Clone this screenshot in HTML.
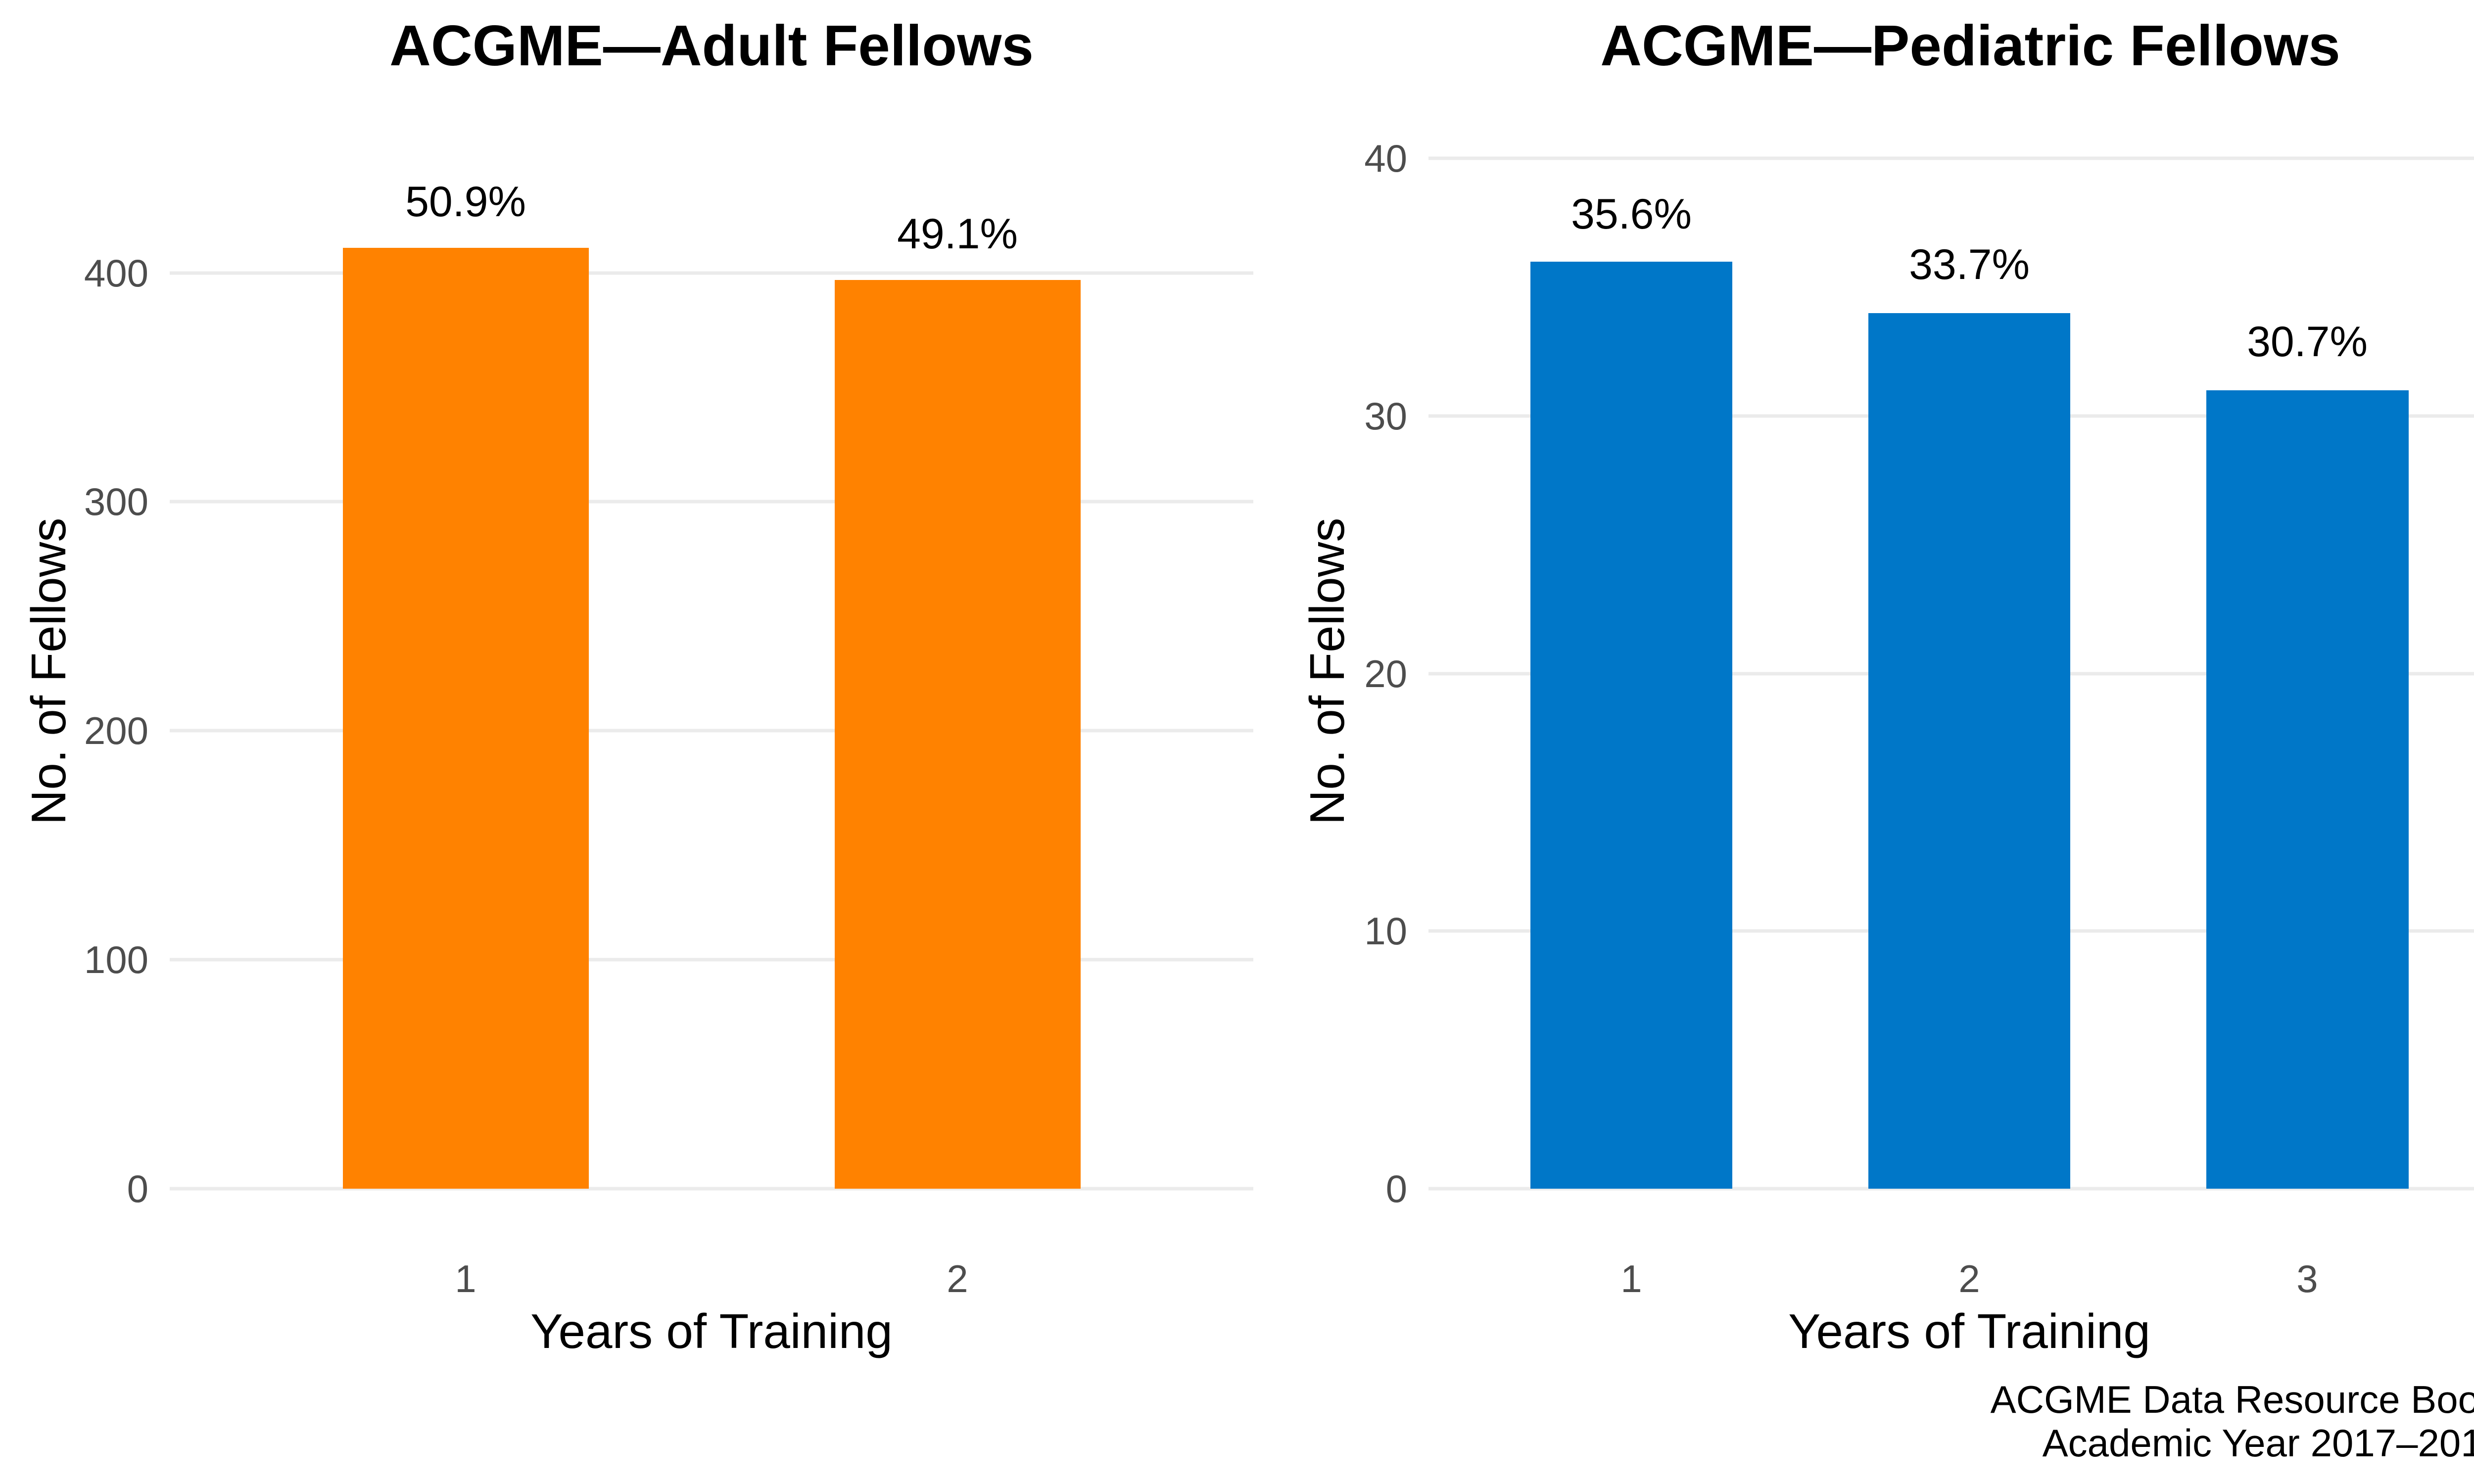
<!DOCTYPE html>
<html><head><meta charset="utf-8"><style>
html,body{margin:0;padding:0;background:#fff;}
svg{display:block;font-family:"Liberation Sans","DejaVu Sans",sans-serif;}
</style></head><body>
<svg width="5100" height="3000" viewBox="0 0 5100 3000" xmlns="http://www.w3.org/2000/svg">
<rect width="5100" height="3000" fill="#fff"/>
<g stroke="#ebebeb" stroke-width="7">
<line x1="343" x2="2533" y1="2403" y2="2403"/>
<line x1="343" x2="2533" y1="1940" y2="1940"/>
<line x1="343" x2="2533" y1="1477" y2="1477"/>
<line x1="343" x2="2533" y1="1014" y2="1014"/>
<line x1="343" x2="2533" y1="552" y2="552"/>
<line x1="2887" x2="5060" y1="2403" y2="2403"/>
<line x1="2887" x2="5060" y1="1882" y2="1882"/>
<line x1="2887" x2="5060" y1="1362" y2="1362"/>
<line x1="2887" x2="5060" y1="841" y2="841"/>
<line x1="2887" x2="5060" y1="320" y2="320"/>
</g>
<g fill="#ff8200">
<rect x="693" y="501" width="497" height="1902"/>
<rect x="1687" y="566" width="497" height="1837"/>
</g>
<g fill="#0077c8">
<rect x="3093" y="529" width="408" height="1874"/>
<rect x="3776" y="633" width="408" height="1770"/>
<rect x="4459" y="789" width="409" height="1614"/>
</g>
<g font-size="78" fill="#4d4d4d" text-anchor="end">
<text x="300" y="2430">0</text>
<text x="300" y="1967">100</text>
<text x="300" y="1504">200</text>
<text x="300" y="1041">300</text>
<text x="300" y="579">400</text>
<text x="2844" y="2430">0</text>
<text x="2844" y="1909">10</text>
<text x="2844" y="1389">20</text>
<text x="2844" y="868">30</text>
<text x="2844" y="347">40</text>
</g>
<g font-size="78" fill="#4d4d4d" text-anchor="middle">
<text x="941" y="2612">1</text>
<text x="1935" y="2612">2</text>
<text x="3297" y="2612">1</text>
<text x="3980" y="2612">2</text>
<text x="4663" y="2612">3</text>
</g>
<g font-size="86" fill="#000" text-anchor="middle">
<text x="941" y="437">50.9%</text>
<text x="1935" y="502">49.1%</text>
<text x="3297" y="462">35.6%</text>
<text x="3980" y="564">33.7%</text>
<text x="4663" y="720">30.7%</text>
</g>
<g font-size="98" fill="#000" text-anchor="middle">
<text x="1438" y="2725">Years of Training</text>
<text x="3980" y="2725">Years of Training</text>
<text transform="translate(132,1357) rotate(-90)">No. of Fellows</text>
<text transform="translate(2716,1357) rotate(-90)">No. of Fellows</text>
</g>
<g font-size="116" font-weight="bold" fill="#000" text-anchor="middle">
<text x="1438" y="132">ACGME—Adult Fellows</text>
<text x="3982" y="132">ACGME—Pediatric Fellows</text>
</g>
<g font-size="78" fill="#000" text-anchor="end">
<text x="5050" y="2856">ACGME Data Resource Book</text>
<text x="5060" y="2944">Academic Year 2017–2018</text>
</g>
</svg>
</body></html>
